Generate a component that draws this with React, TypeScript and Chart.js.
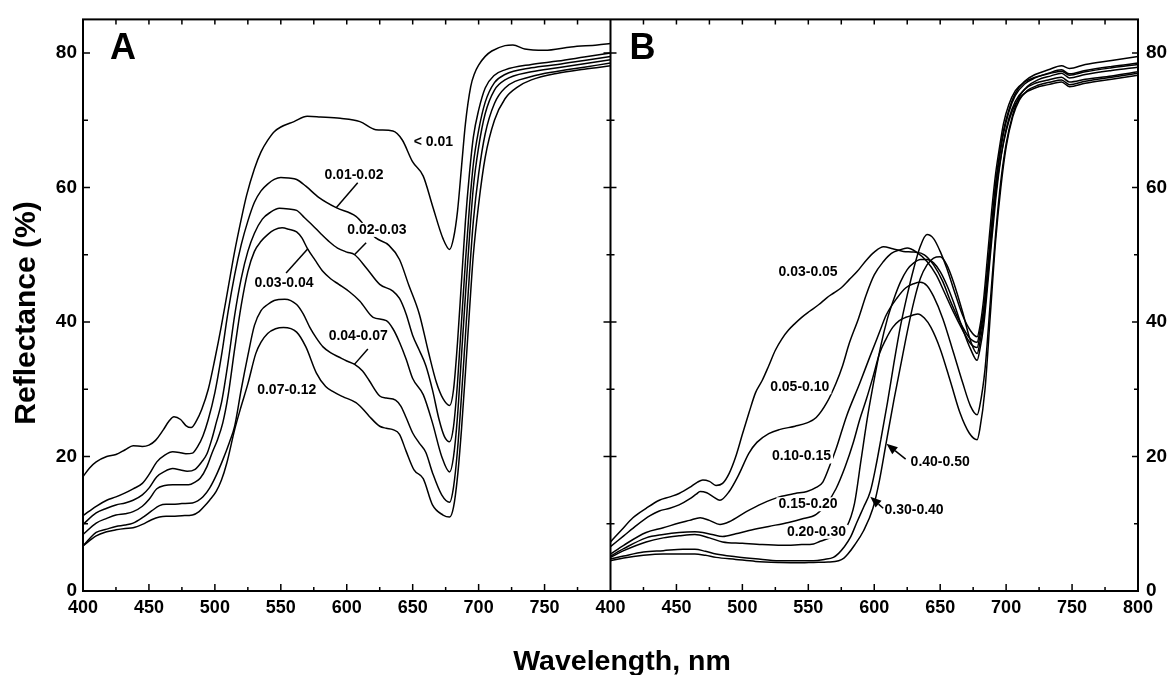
import React, { useEffect, useRef } from 'react';
import { Chart, registerables } from 'chart.js';

Chart.register(...registerables);

const FONT = '"Liberation Sans", Arial, Helvetica, sans-serif';

// ---------- Tick labels ----------
const X_TICKS_A = [400, 450, 500, 550, 600, 650, 700, 750];
const X_TICKS_B = [400, 450, 500, 550, 600, 650, 700, 750, 800];
const Y_TICKS = [0, 20, 40, 60, 80];

// ---------- Panel A series: [wavelength nm, reflectance %] ----------
const A_LT001: [number, number][] = [[400,17.0],[405,18.3],[410,19.2],[418,20.0],[425,20.3],[432,21.0],[438,21.6],[445,21.5],[450,21.7],[455,22.4],[461,24.0],[465,25.2],[469,25.9],[474,25.5],[478,24.6],[482,24.3],[486,25.3],[490,27.0],[495,30.0],[500,34.5],[505,39.5],[510,45.0],[515,50.5],[520,55.3],[524,58.8],[530,62.8],[535,65.3],[540,67.0],[545,68.3],[550,69.0],[560,69.8],[570,70.6],[580,70.5],[595,70.3],[610,69.8],[622,68.6],[635,68.4],[642,67.1],[650,63.8],[658,61.7],[665,57.3],[673,52.4],[678,50.8],[681,52.5],[684,56.5],[687,63.0],[690,69.5],[694,75.0],[697,77.0],[700,78.2],[705,79.5],[710,80.3],[720,81.1],[726,81.2],[735,80.6],[750,80.4],[770,80.9],[790,81.2],[800,81.4]];
const A_001_002: [number, number][] = [[400,11.2],[410,12.6],[418,13.5],[425,14.0],[432,14.6],[438,15.2],[445,16.0],[450,17.3],[456,19.2],[462,20.2],[468,20.7],[473,20.6],[478,20.4],[483,20.5],[487,21.5],[491,23.1],[495,25.5],[500,29.5],[505,35.0],[510,41.5],[515,47.0],[520,51.5],[525,55.0],[530,57.8],[535,59.5],[540,60.5],[545,61.2],[550,61.5],[556,61.4],[562,61.2],[569,60.2],[579,58.5],[592,57.0],[607,55.7],[615,54.0],[622,52.5],[632,51.4],[640,49.3],[647,45.5],[655,41.2],[662,35.5],[668,31.0],[673,28.6],[678,27.6],[681,30.0],[684,37.0],[687,46.0],[690,55.0],[693,62.0],[696,67.5],[700,71.5],[705,74.8],[712,76.7],[720,77.5],[740,78.3],[760,78.8],[780,79.4],[800,80.0]];
const A_002_003: [number, number][] = [[400,9.9],[410,11.6],[418,12.3],[425,12.8],[432,13.1],[438,13.5],[445,14.3],[450,15.3],[456,17.0],[462,17.8],[468,18.2],[474,18.0],[479,17.8],[485,18.1],[490,19.2],[494,20.4],[498,22.8],[501,25.0],[505,28.0],[510,34.0],[515,41.0],[520,46.5],[525,50.5],[530,53.2],[536,55.3],[542,56.3],[549,56.9],[556,56.8],[562,56.6],[568,55.5],[574,54.4],[580,53.2],[587,51.9],[593,51.0],[600,50.4],[606,50.0],[615,48.0],[625,45.6],[635,44.6],[640,43.5],[645,41.2],[650,38.0],[655,35.8],[660,33.5],[665,29.9],[670,25.5],[674,23.0],[678,22.2],[681,24.5],[684,31.0],[687,40.0],[690,49.0],[693,57.0],[696,63.5],[700,68.5],[705,72.7],[712,75.6],[720,76.8],[740,77.8],[760,78.3],[780,78.9],[800,79.5]];
const A_003_004: [number, number][] = [[400,8.4],[410,10.1],[418,10.8],[425,11.3],[432,11.5],[438,11.8],[445,12.6],[450,13.6],[456,15.2],[462,15.7],[468,15.8],[474,15.8],[480,15.8],[485,16.2],[489,16.8],[494,18.5],[498,20.6],[502,22.5],[506,25.0],[510,29.0],[515,36.0],[520,42.5],[525,47.5],[530,50.5],[535,52.0],[540,53.0],[545,53.7],[551,54.0],[556,53.8],[562,53.4],[566,52.5],[570,51.0],[576,49.2],[582,47.5],[588,46.4],[594,45.6],[602,44.5],[610,43.1],[620,40.7],[630,40.2],[635,39.0],[640,37.0],[645,34.5],[650,31.6],[658,29.2],[665,25.0],[672,20.0],[678,17.7],[681,20.0],[684,26.0],[687,35.0],[690,44.0],[693,52.5],[696,60.0],[700,66.0],[705,71.0],[712,74.5],[720,76.0],[740,77.2],[760,77.8],[780,78.4],[800,79.0]];
const A_004_007: [number, number][] = [[400,6.7],[410,8.7],[418,9.2],[425,9.6],[432,9.8],[438,10.1],[445,10.9],[452,11.9],[458,12.7],[463,12.9],[468,12.9],[475,13.0],[483,13.1],[487,13.4],[491,14.0],[496,15.3],[501,17.2],[506,19.5],[511,22.1],[515,24.5],[520,30.0],[525,35.0],[530,39.5],[535,41.7],[540,42.6],[545,43.2],[553,43.4],[562,42.6],[567,41.2],[572,39.2],[577,37.6],[582,36.3],[588,35.4],[594,34.8],[600,34.2],[606,33.7],[612,32.7],[617,31.3],[625,29.0],[630,28.7],[637,28.4],[641,27.5],[645,25.8],[650,23.5],[655,22.0],[660,20.6],[665,17.6],[672,14.3],[678,13.2],[681,15.5],[684,21.0],[687,29.0],[690,38.0],[693,47.0],[696,55.0],[700,62.0],[705,68.0],[712,72.5],[720,74.8],[740,76.5],[760,77.3],[780,77.9],[800,78.5]];
const A_007_012: [number, number][] = [[400,6.7],[410,8.2],[418,8.8],[425,9.1],[432,9.3],[438,9.4],[445,9.9],[452,10.6],[458,11.0],[463,11.1],[468,11.1],[475,11.2],[483,11.3],[488,11.8],[492,12.6],[496,13.5],[501,14.8],[505,16.5],[509,19.0],[515,24.0],[520,27.5],[525,30.8],[531,35.3],[535,37.0],[540,38.3],[546,39.0],[552,39.2],[562,38.5],[569,36.3],[577,32.4],[584,30.4],[590,29.6],[597,28.9],[607,28.0],[612,27.1],[617,26.0],[625,24.5],[630,24.2],[635,24.0],[640,23.3],[645,20.8],[651,18.0],[658,16.7],[665,12.8],[673,11.3],[678,11.0],[681,12.5],[684,17.0],[687,24.0],[690,32.5],[693,41.5],[696,50.0],[700,57.5],[705,64.5],[712,70.0],[720,73.2],[730,75.0],[740,76.0],[760,77.0],[780,77.6],[800,78.1]];

// ---------- Panel B series ----------
const B_003_005: [number, number][] = [[400,7.3],[408,9.0],[417,10.9],[427,12.3],[437,13.5],[445,14.0],[452,14.5],[460,15.4],[466,16.2],[470,16.5],[475,16.3],[480,15.7],[485,16.0],[490,17.5],[495,20.0],[500,23.3],[505,26.5],[510,29.5],[515,31.3],[520,33.5],[525,35.8],[530,37.5],[535,38.8],[540,39.8],[545,40.7],[551,41.6],[558,42.6],[564,43.6],[570,44.4],[575,45.1],[581,46.3],[587,47.5],[594,49.2],[600,50.4],[607,51.2],[614,50.9],[622,50.5],[630,50.4],[638,50.0],[645,48.5],[652,46.0],[658,43.0],[665,40.0],[672,37.7],[678,37.0],[680,38.5],[683,42.0],[686,48.0],[689,54.5],[692,60.5],[695,65.0],[698,68.5],[702,71.5],[707,74.0],[714,75.8],[722,76.8],[732,77.5],[742,78.1],[748,77.7],[760,78.3],[780,78.9],[800,79.5]];
const B_005_010: [number, number][] = [[400,6.6],[410,8.2],[420,9.8],[430,11.2],[437,11.9],[445,12.3],[452,12.8],[460,13.7],[465,14.4],[468,14.8],[473,14.6],[478,14.0],[483,13.5],[490,14.8],[497,17.2],[505,20.5],[511,22.1],[520,23.4],[528,24.0],[540,24.5],[549,25.0],[556,25.8],[564,28.0],[571,30.9],[576,33.5],[581,36.8],[588,40.5],[594,44.1],[600,47.0],[607,49.0],[613,50.2],[619,50.7],[625,51.0],[632,50.4],[640,49.0],[647,47.0],[653,44.5],[660,41.5],[667,38.8],[673,36.8],[678,36.2],[680,37.8],[683,41.5],[686,47.5],[689,54.0],[692,60.0],[695,64.5],[698,68.0],[702,71.2],[707,73.7],[714,75.4],[722,76.3],[732,77.0],[742,77.5],[748,76.9],[760,77.4],[780,78.0],[800,78.5]];
const B_010_015: [number, number][] = [[400,5.5],[410,6.8],[427,8.7],[440,9.4],[452,10.1],[460,10.5],[468,10.9],[475,10.5],[483,9.9],[490,10.3],[503,11.8],[515,13.0],[528,14.0],[540,14.5],[549,14.8],[556,15.4],[561,16.2],[566,18.5],[571,21.1],[579,26.0],[589,30.9],[597,35.0],[604,38.5],[609,41.0],[617,43.5],[624,45.1],[630,45.7],[635,45.9],[640,45.4],[645,43.8],[652,40.5],[660,35.5],[667,31.0],[673,27.5],[678,26.2],[680,27.5],[684,33.0],[688,43.0],[692,53.0],[696,61.0],[700,66.5],[705,70.8],[710,73.5],[716,75.0],[724,76.0],[734,76.6],[742,77.0],[748,76.3],[760,76.8],[780,77.4],[800,77.9]];
const B_015_020: [number, number][] = [[400,5.2],[410,6.3],[427,7.9],[440,8.4],[452,8.7],[464,8.8],[470,8.7],[477,8.4],[485,8.1],[495,8.5],[505,9.0],[520,9.6],[535,10.2],[545,10.7],[556,11.4],[564,13.0],[571,15.2],[578,18.5],[584,22.0],[589,25.5],[594,28.5],[599,31.8],[604,35.3],[609,37.5],[614,39.2],[619,40.2],[624,40.7],[629,41.0],[633,41.2],[638,40.6],[643,39.2],[650,36.0],[658,31.0],[665,26.5],[672,23.5],[678,22.5],[680,24.0],[684,30.0],[688,41.0],[692,52.0],[696,60.0],[700,66.0],[705,70.5],[710,73.0],[716,74.4],[724,75.2],[734,75.7],[742,76.0],[748,75.3],[760,75.8],[780,76.4],[800,77.0]];
const B_020_030: [number, number][] = [[400,5.0],[410,6.0],[427,7.3],[440,7.9],[452,8.2],[464,8.4],[475,7.9],[485,7.3],[500,7.1],[515,6.9],[530,6.8],[545,6.9],[554,7.0],[559,7.4],[565,7.8],[572,8.3],[579,9.5],[585,13.0],[590,19.5],[595,26.0],[600,31.5],[605,36.5],[610,40.5],[615,43.5],[620,46.0],[625,47.8],[630,48.8],[635,49.3],[640,49.3],[645,48.8],[650,47.5],[655,45.5],[660,43.0],[667,39.0],[673,36.0],[678,34.3],[680,35.8],[683,39.5],[686,45.5],[689,52.0],[692,58.0],[695,63.0],[698,66.8],[702,70.2],[707,72.8],[714,74.6],[722,75.5],[732,76.0],[742,76.4],[748,75.7],[760,76.1],[780,76.6],[800,77.2]];
const B_030_040: [number, number][] = [[400,4.75],[410,5.2],[425,5.8],[440,6.0],[455,6.2],[464,6.2],[472,5.9],[480,5.5],[495,5.1],[510,4.8],[528,4.5],[545,4.5],[554,4.5],[562,4.7],[569,5.0],[573,5.6],[577,6.5],[582,8.0],[587,10.3],[592,12.5],[597,14.8],[601,18.3],[605,22.5],[610,28.0],[615,34.0],[620,39.5],[625,44.0],[630,48.0],[635,51.3],[640,53.0],[645,52.4],[650,50.5],[655,48.0],[660,45.0],[667,41.0],[673,38.7],[678,37.8],[680,39.2],[683,43.5],[686,50.0],[689,56.5],[692,62.0],[695,66.0],[698,69.5],[702,72.3],[707,74.4],[714,75.7],[722,76.4],[732,76.9],[742,77.3],[748,76.7],[760,77.2],[780,77.8],[800,78.3]];
const B_040_050: [number, number][] = [[400,4.5],[410,4.9],[425,5.3],[440,5.5],[455,5.5],[464,5.5],[472,5.3],[480,5.0],[495,4.7],[510,4.4],[528,4.25],[545,4.2],[554,4.25],[565,4.3],[573,4.5],[577,4.9],[580,5.5],[585,6.8],[592,9.0],[599,12.3],[604,16.5],[609,22.0],[615,28.5],[620,33.5],[625,38.5],[630,43.0],[635,46.5],[640,48.5],[645,49.5],[650,49.7],[655,48.5],[660,46.0],[667,41.5],[673,37.2],[678,35.3],[680,36.8],[683,40.5],[686,46.5],[689,53.0],[692,59.0],[695,63.3],[698,66.6],[702,69.8],[707,72.4],[714,74.0],[722,74.8],[732,75.3],[742,75.7],[748,75.0],[760,75.5],[780,76.1],[800,76.7]];

const SERIES_A = [A_LT001, A_001_002, A_002_003, A_003_004, A_004_007, A_007_012];
const SERIES_B = [B_003_005, B_005_010, B_010_015, B_015_020, B_020_030, B_030_040, B_040_050];

// ---------- Curve labels (anchored in data units) ----------
type Lab = { text: string; x: number; y: number };
const LABELS_A: Lab[] = [
  { text: '< 0.01', x: 665.7, y: 66.7 },
  { text: '0.01-0.02', x: 605.5, y: 61.9 },
  { text: '0.02-0.03', x: 622.9, y: 53.7 },
  { text: '0.03-0.04', x: 552.4, y: 45.8 },
  { text: '0.04-0.07', x: 608.7, y: 37.9 },
  { text: '0.07-0.12', x: 554.5, y: 29.8 },
];
const LABELS_B: Lab[] = [
  { text: '0.03-0.05', x: 549.8, y: 47.4 },
  { text: '0.05-0.10', x: 543.5, y: 30.3 },
  { text: '0.10-0.15', x: 544.8, y: 20.0 },
  { text: '0.15-0.20', x: 549.8, y: 12.9 },
  { text: '0.20-0.30', x: 556.2, y: 8.8 },
  { text: '0.40-0.50', x: 650.0, y: 19.1 },
  { text: '0.30-0.40', x: 630.2, y: 12.0 },
];
// leader lines [x1, y1, x2, y2]
const LEADERS_A: [number, number, number, number][] = [
  [608.3, 60.7, 592.0, 57.0],
  [614.7, 51.8, 605.8, 50.0],
  [554.0, 47.3, 570.5, 50.9],
  [616.0, 36.0, 605.8, 33.7],
];
// arrows [tailX, tailY, tipX, tipY]
const ARROWS_B: [number, number, number, number][] = [
  [623.8, 19.6, 609.3, 21.9],
  [606.8, 12.3, 597.0, 14.0],
];

const mkDataset = (pts: [number, number][], xAxisID: string) => ({
  data: pts.map(([x, y]) => ({ x, y })),
  xAxisID,
  yAxisID: 'y',
  borderColor: '#000',
  borderWidth: 1.5,
  pointRadius: 0,
  pointHoverRadius: 0,
  fill: false,
  cubicInterpolationMode: 'monotone' as const,
});

const decorPlugin = {
  id: 'decor',
  afterDatasetsDraw(chart: any) {
    const { ctx, scales } = chart;
    const ys = scales.y;
    const drawLab = (sc: any, l: Lab) => {
      const px = sc.getPixelForValue(l.x);
      const py = ys.getPixelForValue(l.y);
      ctx.font = `bold 14px ${FONT}`;
      const w = ctx.measureText(l.text).width;
      ctx.fillStyle = '#fff';
      ctx.fillRect(px - w / 2 - 2, py - 7, w + 4, 14);
      ctx.fillStyle = '#000';
      ctx.textAlign = 'center';
      ctx.textBaseline = 'middle';
      ctx.fillText(l.text, px, py);
    };
    ctx.save();
    LABELS_A.forEach((l) => drawLab(scales.x, l));
    LABELS_B.forEach((l) => drawLab(scales.x2, l));
    ctx.strokeStyle = '#000';
    ctx.lineWidth = 1.5;
    LEADERS_A.forEach(([x1, y1, x2, y2]) => {
      ctx.beginPath();
      ctx.moveTo(scales.x.getPixelForValue(x1), ys.getPixelForValue(y1));
      ctx.lineTo(scales.x.getPixelForValue(x2), ys.getPixelForValue(y2));
      ctx.stroke();
    });
    ARROWS_B.forEach(([x1, y1, x2, y2]) => {
      const ax = scales.x2.getPixelForValue(x1), ay = ys.getPixelForValue(y1);
      const bx = scales.x2.getPixelForValue(x2), by = ys.getPixelForValue(y2);
      const ang = Math.atan2(by - ay, bx - ax);
      const L = 11, H = 4.5;
      const bxx = bx - L * Math.cos(ang), byy = by - L * Math.sin(ang);
      ctx.beginPath();
      ctx.moveTo(ax, ay);
      ctx.lineTo(bxx, byy);
      ctx.stroke();
      ctx.beginPath();
      ctx.moveTo(bx, by);
      ctx.lineTo(bxx + H * Math.sin(ang), byy - H * Math.cos(ang));
      ctx.lineTo(bxx - H * Math.sin(ang), byy + H * Math.cos(ang));
      ctx.closePath();
      ctx.fillStyle = '#000';
      ctx.fill();
    });
    ctx.restore();
  },
  afterDraw(chart: any) {
    const { ctx, chartArea, scales } = chart;
    const { left, right, top, bottom } = chartArea;
    const xs = scales.x, xs2 = scales.x2, ys = scales.y;
    const mid = xs2.getPixelForValue(400);
    ctx.save();
    ctx.strokeStyle = '#000';
    ctx.lineWidth = 2;
    ctx.strokeRect(left, top, right - left, bottom - top);
    ctx.beginPath();
    ctx.moveTo(mid, top);
    ctx.lineTo(mid, bottom);
    ctx.stroke();
    ctx.lineWidth = 1.5;
    ctx.beginPath();
    [xs, xs2].forEach((sc: any) => {
      for (let v = 425; v < 800; v += 25) {
        const px = sc.getPixelForValue(v);
        const major = v % 50 === 0;
        ctx.moveTo(px, bottom);
        ctx.lineTo(px, bottom - (major ? 7 : 4));
        ctx.moveTo(px, top);
        ctx.lineTo(px, top + 5);
      }
    });
    for (let v = 10; v <= 80; v += 10) {
      const py = ys.getPixelForValue(v);
      const major = v % 20 === 0;
      ctx.moveTo(left, py);
      ctx.lineTo(left + (major ? 7 : 5), py);
      ctx.moveTo(right, py);
      ctx.lineTo(right - (major ? 6 : 4), py);
      ctx.moveTo(mid - (major ? 7 : 4), py);
      ctx.lineTo(mid + (major ? 6 : 4), py);
    }
    ctx.stroke();

    ctx.fillStyle = '#000';
    ctx.font = `bold 36px ${FONT}`;
    ctx.textAlign = 'left';
    ctx.textBaseline = 'alphabetic';
    ctx.fillText('A', left + 27, top + 40);
    ctx.fillText('B', mid + 19, top + 40);

    ctx.font = `bold 28.5px ${FONT}`;
    ctx.textAlign = 'center';
    ctx.fillText('Wavelength, nm', 622, 670);

    ctx.save();
    ctx.translate(34.5, 313);
    ctx.rotate(-Math.PI / 2);
    ctx.font = `bold 30px ${FONT}`;
    ctx.textAlign = 'center';
    ctx.textBaseline = 'alphabetic';
    ctx.fillText('Reflectance (%)', 0, 0);
    ctx.restore();
    ctx.restore();
  },
};

export default function App() {
  const ref = useRef<HTMLCanvasElement | null>(null);
  useEffect(() => {
    if (!ref.current) return;
    const tickFontX = { family: FONT, size: 18, weight: 'bold' as const };
    const tickFontY = { family: FONT, size: 19, weight: 'bold' as const };
    const xBase = (ticks: number[]) => ({
      type: 'linear' as const,
      position: 'bottom' as const,
      stack: 'wl',
      stackWeight: 1,
      min: 400,
      max: 800,
      grid: { display: false, drawTicks: false },
      border: { display: false },
      afterBuildTicks: (s: any) => { s.ticks = ticks.map((value) => ({ value })); },
      afterFit: (s: any) => { s.height = 84; },
      ticks: { autoSkip: false, maxRotation: 0, minRotation: 0, padding: 6, color: '#000', font: tickFontX },
    });
    const yBase = (position: 'left' | 'right', width: number, padding: number) => ({
      type: 'linear' as const,
      position,
      min: 0,
      max: 85,
      grid: { display: false, drawTicks: false },
      border: { display: false },
      afterBuildTicks: (s: any) => { s.ticks = Y_TICKS.map((value) => ({ value })); },
      afterFit: (s: any) => { s.width = width; },
      ticks: { padding, color: '#000', font: tickFontY },
    });
    const chart = new Chart(ref.current, {
      type: 'line',
      data: {
        datasets: [
          ...SERIES_A.map((s) => mkDataset(s, 'x')),
          ...SERIES_B.map((s) => mkDataset(s, 'x2')),
        ],
      },
      options: {
        responsive: false,
        animation: false,
        devicePixelRatio: 1,
        layout: { padding: { top: 12, left: 0, right: 0, bottom: 0 } },
        plugins: { legend: { display: false }, tooltip: { enabled: false }, title: { display: false } },
        events: [],
        scales: {
          x: xBase(X_TICKS_A),
          x2: xBase(X_TICKS_B),
          y: yBase('left', 83, 6),
          y2: yBase('right', 32, 8),
        },
      } as any,
      plugins: [decorPlugin],
    });
    return () => chart.destroy();
  }, []);
  return (
    <div style={{ position: 'absolute', left: 0, top: 0, width: 1170, height: 675, background: '#fff' }}>
      <canvas ref={ref} width={1170} height={675} style={{ display: 'block' }} />
    </div>
  );
}
